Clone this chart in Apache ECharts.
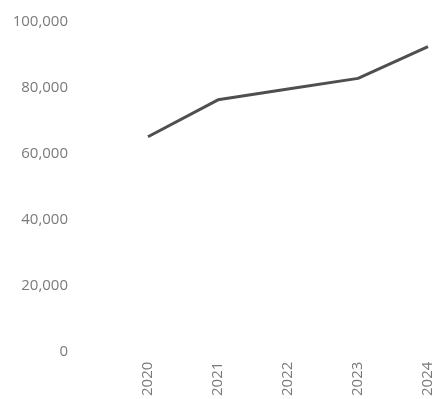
<!DOCTYPE html>
<html>
<head>
<meta charset="utf-8">
<script src="https://cdn.jsdelivr.net/npm/echarts@6/dist/echarts.min.js"></script>
<style>
  html, body { margin: 0; padding: 0; background: #fff; }
  #chart { width: 436px; height: 399px; }
</style>
</head>
<body>
<div id="chart"></div>
<script>
// Yearly totals
const years = [2020, 2021, 2022, 2023, 2024];
const values = [65200, 76400, 79700, 82900, 92500];
const yTicks = [0, 20000, 40000, 60000, 80000, 100000];

const chart = echarts.init(document.getElementById('chart'), null, { renderer: 'canvas' });
const labelFont = '"Segoe UI", "Open Sans", "Noto Sans", sans-serif';

chart.setOption({
  animation: false,
  backgroundColor: '#ffffff',
  grid: { left: 78, right: 8, top: 22, bottom: 47 },
  xAxis: {
    type: 'value',
    min: years[0] - 1,
    max: years[years.length - 1],
    interval: 1,
    axisLine: { show: false },
    axisTick: { show: false },
    splitLine: { show: false },
    axisLabel: {
      rotate: 90,
      margin: 10,
      color: '#7a7a7a',
      fontSize: 15,
      fontFamily: labelFont,
      formatter: v => (years.includes(v) ? String(v) : '')
    }
  },
  yAxis: {
    type: 'value',
    min: yTicks[0],
    max: yTicks[yTicks.length - 1],
    interval: yTicks[1] - yTicks[0],
    axisLine: { show: false },
    axisTick: { show: false },
    splitLine: { show: false },
    axisLabel: {
      margin: 10,
      color: '#7a7a7a',
      fontSize: 15,
      fontFamily: labelFont,
      formatter: v => v.toLocaleString('en-US')
    }
  },
  series: [{
    type: 'line',
    data: years.map((y, i) => [y, values[i]]),
    symbol: 'none',
    lineStyle: { color: '#4f4f4f', width: 3 },
    itemStyle: { color: '#4f4f4f' }
  }]
});
</script>
</body>
</html>
